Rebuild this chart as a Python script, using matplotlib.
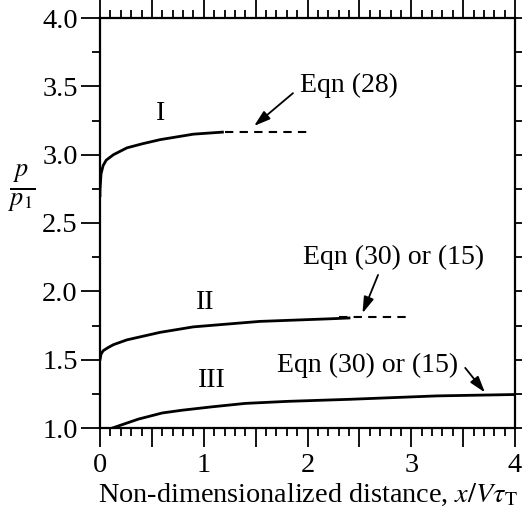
import matplotlib
matplotlib.use("Agg")
import matplotlib.pyplot as plt
from matplotlib.ticker import MultipleLocator, FuncFormatter

plt.rcParams["font.family"] = ["Liberation Serif", "DejaVu Serif"]
plt.rcParams["mathtext.fontset"] = "stix"
plt.rcParams["font.size"] = 19

# Pressure ratio p/p1 against x/V*tau_T, three cases
x_I = [0.0, 0.0, 0.01, 0.03, 0.06, 0.13, 0.26, 0.41, 0.58, 0.9, 1.18]
y_I = [2.70, 2.74, 2.86, 2.92, 2.96, 3.00, 3.05, 3.08, 3.11, 3.15, 3.165]
x_I_eqn = [1.2, 2.0]
y_I_eqn = [3.165, 3.165]

x_II = [0.0, 0.01, 0.03, 0.07, 0.13, 0.26, 0.58, 0.9, 1.22, 1.54, 2.25, 2.4]
y_II = [1.50, 1.54, 1.565, 1.585, 1.61, 1.645, 1.70, 1.74, 1.76, 1.78, 1.80, 1.805]
x_II_eqn = [2.3, 3.0]
y_II_eqn = [1.81, 1.81]

x_III = [0.12, 0.37, 0.6, 0.79, 1.08, 1.4, 1.81, 2.41, 3.25, 4.0]
y_III = [1.0, 1.065, 1.11, 1.13, 1.155, 1.18, 1.195, 1.21, 1.235, 1.245]

fig = plt.figure(figsize=(5.22, 5.12), dpi=100)
ax = fig.add_axes([100 / 522, 1 - 428 / 512, 415 / 522, 410 / 512])

ax.plot(x_I, y_I, color="k", lw=2.0)
ax.plot(x_I_eqn, y_I_eqn, color="k", lw=1.5, dashes=(4, 3))
ax.plot(x_II, y_II, color="k", lw=2.0)
ax.plot(x_II_eqn, y_II_eqn, color="k", lw=1.5, dashes=(4, 3))
ax.plot(x_III, y_III, color="k", lw=2.0)

ax.set_xlim(0, 4)
ax.set_ylim(1.0, 4.0)

# x axis: labelled integers, longer ticks at halves, short at tenths
ax.xaxis.set_major_locator(MultipleLocator(0.5))
ax.xaxis.set_minor_locator(MultipleLocator(0.1))
ax.xaxis.set_major_formatter(FuncFormatter(lambda v, p: f"{v:.0f}" if abs(v - round(v)) < 1e-6 else ""))
ax.yaxis.set_major_locator(MultipleLocator(0.5))
ax.yaxis.set_minor_locator(MultipleLocator(0.25))
ax.yaxis.set_major_formatter(FuncFormatter(lambda v, p: f"{v:.1f}"))

ax.tick_params(which="both", direction="out", top=True, right=True, width=1.3)
ax.tick_params(which="minor", length=6)
ax.tick_params(which="major", length=14, labelsize=20.5)
ax.tick_params(axis="x", pad=4)
ax.tick_params(axis="y", pad=2)

for t in ax.xaxis.get_major_ticks():
    if abs(t.get_loc() - round(t.get_loc())) > 1e-6:
        t.tick1line.set_markersize(10)
        t.tick2line.set_markersize(10)
for t in ax.yaxis.get_major_ticks():
    t.tick2line.set_markersize(6)

for s in ax.spines.values():
    s.set_linewidth(1.6)

ax.text(0.58, 3.30, "I", ha="center", va="center", fontsize=20)
ax.text(1.01, 1.92, "II", ha="center", va="center", fontsize=20)
ax.text(1.08, 1.35, "III", ha="center", va="center", fontsize=20)

arrow = dict(arrowstyle="-|>,head_length=0.7,head_width=0.22", color="k", lw=1.3,
             mutation_scale=14, shrinkA=0, shrinkB=0)
ax.annotate("", xy=(1.485, 3.21), xytext=(1.86, 3.45), arrowprops=arrow)
ax.text(1.93, 3.51, "Eqn (28)", ha="left", va="center", fontsize=20)
ax.annotate("", xy=(2.53, 1.84), xytext=(2.68, 2.12), arrowprops=arrow)
ax.text(1.96, 2.245, "Eqn (30) or (15)", ha="left", va="center", fontsize=20)
ax.annotate("", xy=(3.71, 1.26), xytext=(3.52, 1.44), arrowprops=arrow)
ax.text(1.71, 1.46, "Eqn (30) or (15)", ha="left", va="center", fontsize=20)

ax.set_xlabel(r"Non-dimensionalized distance, $x/V\tau_{\mathrm{T}}$", labelpad=3, fontsize=20.3)
fig.text(22 / 522, 1 - 188 / 512, r"$\frac{p}{p_1}$", ha="center", va="center", fontsize=27)

fig.savefig("out.png", dpi=100)
